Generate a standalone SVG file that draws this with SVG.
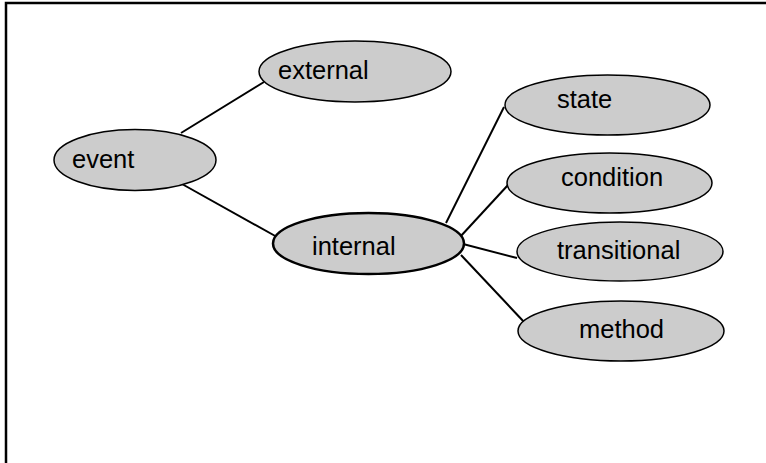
<svg xmlns="http://www.w3.org/2000/svg" width="766" height="463" viewBox="0 0 766 463">
<style>
.node ellipse{fill:#cccccc;stroke:#000;stroke-width:1.5}
#internal ellipse{stroke-width:2.5}
.node text{font-family:"Liberation Sans",Arial,sans-serif;font-size:25.5px;fill:#000}
.edges line{stroke:#000;stroke-width:2}
</style>
<rect x="0" y="0" width="766" height="463" fill="#fff"/>
<path d="M6,463 V3 H766" fill="none" stroke="#000" stroke-width="2.5"/>
<g class="edges">
<line x1="181" y1="133" x2="264" y2="82"/>
<line x1="182" y1="184" x2="277" y2="237"/>
<line x1="446" y1="223" x2="504" y2="107"/>
<line x1="460" y1="237" x2="508" y2="185"/>
<line x1="463" y1="244" x2="517" y2="258"/>
<line x1="461" y1="255" x2="525" y2="323"/>
</g>
<g class="node" id="event"><ellipse cx="135" cy="160" rx="81" ry="30.5"/><text x="72" y="168">event</text></g>
<g class="node" id="external"><ellipse cx="355" cy="71.5" rx="96" ry="30.5"/><text x="278" y="79">external</text></g>
<g class="node" id="internal"><ellipse cx="368.5" cy="243.5" rx="95.5" ry="30.5"/><text x="312" y="255">internal</text></g>
<g class="node" id="state"><ellipse cx="607.5" cy="105" rx="102.5" ry="30"/><text x="557" y="108">state</text></g>
<g class="node" id="condition"><ellipse cx="609.5" cy="183" rx="102.5" ry="30"/><text x="561" y="186">condition</text></g>
<g class="node" id="transitional"><ellipse cx="620" cy="251.5" rx="103" ry="29.5"/><text x="557" y="259">transitional</text></g>
<g class="node" id="method"><ellipse cx="621" cy="331" rx="103" ry="30"/><text x="579" y="338">method</text></g>
</svg>
